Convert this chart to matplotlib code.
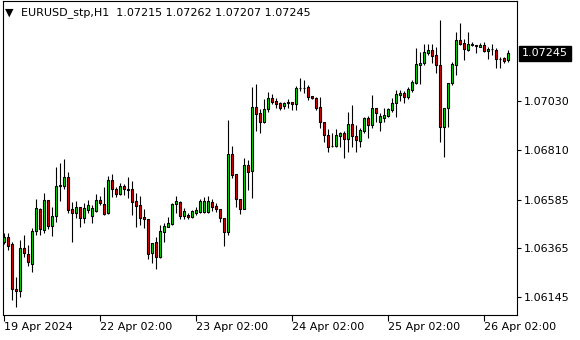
import numpy as np
import pandas as pd
import matplotlib
matplotlib.use("Agg")
import matplotlib.pyplot as plt
from matplotlib.transforms import blended_transform_factory

symbol = "EURUSD_stp,H1"

# hourly bars: Fri 19 Apr 02:00 .. Fri 26 Apr 08:00 (weekend gap)
times = pd.date_range("2024-04-19 02:00", "2024-04-19 23:00", freq="h").append(
    pd.date_range("2024-04-22 00:00", "2024-04-26 08:00", freq="h"))

opens = [
    1.06393, 1.06414, 1.06384, 1.06181, 1.06170, 1.06364, 1.06337, 1.06296, 1.06441, 1.06544,
    1.06447, 1.06581, 1.06465, 1.06512, 1.06644, 1.06647, 1.06685, 1.06540, 1.06526, 1.06550,
    1.06500, 1.06538, 1.06511, 1.06533, 1.06583, 1.06563, 1.06523, 1.06673, 1.06633, 1.06609,
    1.06646, 1.06633, 1.06633, 1.06578, 1.06560, 1.06505, 1.06497, 1.06342, 1.06392, 1.06324,
    1.06440, 1.06462, 1.06475, 1.06563, 1.06575, 1.06512, 1.06515, 1.06505, 1.06526, 1.06530,
    1.06530, 1.06530, 1.06572, 1.06556, 1.06541, 1.06500, 1.06440, 1.06789, 1.06699, 1.06586,
    1.06541, 1.06740, 1.06714, 1.07004, 1.06977, 1.06936, 1.06992, 1.07042, 1.07030, 1.07019,
    1.07009, 1.07022, 1.07024, 1.07015, 1.07087, 1.07090, 1.07092, 1.07052, 1.07042, 1.07001,
    1.06934, 1.06876, 1.06825, 1.06827, 1.06873, 1.06884, 1.06858, 1.06925, 1.06872, 1.06851,
    1.06896, 1.06952, 1.06921, 1.06997, 1.06936, 1.06954, 1.06962, 1.06989, 1.07022, 1.07058,
    1.07065, 1.07049, 1.07079, 1.07112, 1.07194, 1.07200, 1.07248, 1.07260, 1.07236, 1.07192,
    1.06911, 1.06997, 1.07110, 1.07192, 1.07305, 1.07290, 1.07260, 1.07285, 1.07283, 1.07275,
    1.07283, 1.07257, 1.07266, 1.07260, 1.07221, 1.07223, 1.07215]

highs = [
    1.06433, 1.06434, 1.06391, 1.06235, 1.06400, 1.06425, 1.06380, 1.06456, 1.06587, 1.06547,
    1.06614, 1.06583, 1.06551, 1.06733, 1.06751, 1.06767, 1.06709, 1.06576, 1.06580, 1.06551,
    1.06568, 1.06583, 1.06560, 1.06610, 1.06601, 1.06640, 1.06691, 1.06700, 1.06643, 1.06658,
    1.06654, 1.06688, 1.06670, 1.06616, 1.06601, 1.06541, 1.06497, 1.06389, 1.06417, 1.06470,
    1.06480, 1.06505, 1.06568, 1.06601, 1.06580, 1.06545, 1.06526, 1.06538, 1.06553, 1.06586,
    1.06598, 1.06601, 1.06586, 1.06571, 1.06542, 1.06502, 1.06944, 1.06827, 1.06700, 1.06587,
    1.06771, 1.06763, 1.07094, 1.07107, 1.06992, 1.07037, 1.07069, 1.07060, 1.07042, 1.07024,
    1.07024, 1.07039, 1.07027, 1.07099, 1.07132, 1.07125, 1.07102, 1.07052, 1.07046, 1.07046,
    1.06934, 1.06902, 1.06884, 1.06903, 1.06891, 1.06896, 1.06980, 1.07012, 1.06921, 1.06907,
    1.06959, 1.06962, 1.07057, 1.06997, 1.06974, 1.06997, 1.06997, 1.07042, 1.07079, 1.07079,
    1.07075, 1.07092, 1.07125, 1.07268, 1.07252, 1.07287, 1.07287, 1.07287, 1.07275, 1.07395,
    1.07000, 1.07111, 1.07207, 1.07343, 1.07380, 1.07308, 1.07341, 1.07297, 1.07284, 1.07290,
    1.07295, 1.07275, 1.07287, 1.07268, 1.07230, 1.07227, 1.07262]

lows = [
    1.06384, 1.06357, 1.06131, 1.06100, 1.06143, 1.06326, 1.06283, 1.06260, 1.06425, 1.06423,
    1.06434, 1.06452, 1.06420, 1.06485, 1.06578, 1.06633, 1.06523, 1.06395, 1.06500, 1.06459,
    1.06479, 1.06524, 1.06479, 1.06530, 1.06560, 1.06515, 1.06520, 1.06598, 1.06595, 1.06605,
    1.06605, 1.06591, 1.06515, 1.06462, 1.06470, 1.06455, 1.06315, 1.06300, 1.06270, 1.06320,
    1.06395, 1.06460, 1.06470, 1.06526, 1.06496, 1.06496, 1.06496, 1.06503, 1.06514, 1.06526,
    1.06526, 1.06526, 1.06535, 1.06530, 1.06482, 1.06377, 1.06426, 1.06681, 1.06553, 1.06520,
    1.06540, 1.06628, 1.06591, 1.06896, 1.06887, 1.06932, 1.06981, 1.07015, 1.06999, 1.06989,
    1.06992, 1.06999, 1.06989, 1.06989, 1.07075, 1.07065, 1.07034, 1.07037, 1.06989, 1.06909,
    1.06843, 1.06798, 1.06823, 1.06823, 1.06823, 1.06771, 1.06798, 1.06822, 1.06801, 1.06823,
    1.06887, 1.06861, 1.06907, 1.06936, 1.06896, 1.06936, 1.06959, 1.06981, 1.06959, 1.07031,
    1.07022, 1.07037, 1.07072, 1.07107, 1.07107, 1.07192, 1.07237, 1.07200, 1.07157, 1.06846,
    1.06776, 1.06914, 1.07102, 1.07147, 1.07283, 1.07215, 1.07257, 1.07278, 1.07248, 1.07272,
    1.07252, 1.07218, 1.07237, 1.07177, 1.07177, 1.07200, 1.07207]

closes = [
    1.06415, 1.06377, 1.06181, 1.06174, 1.06366, 1.06344, 1.06301, 1.06441, 1.06545, 1.06452,
    1.06581, 1.06465, 1.06509, 1.06645, 1.06651, 1.06685, 1.06538, 1.06526, 1.06550, 1.06500,
    1.06545, 1.06560, 1.06545, 1.06583, 1.06568, 1.06520, 1.06673, 1.06631, 1.06609, 1.06646,
    1.06631, 1.06629, 1.06575, 1.06557, 1.06503, 1.06496, 1.06339, 1.06387, 1.06324, 1.06443,
    1.06465, 1.06479, 1.06563, 1.06578, 1.06511, 1.06533, 1.06505, 1.06533, 1.06538, 1.06578,
    1.06578, 1.06578, 1.06553, 1.06541, 1.06500, 1.06440, 1.06789, 1.06696, 1.06586, 1.06541,
    1.06740, 1.06711, 1.07001, 1.06971, 1.06936, 1.06992, 1.07042, 1.07027, 1.07016, 1.06999,
    1.07019, 1.07023, 1.07015, 1.07087, 1.07090, 1.07088, 1.07049, 1.07042, 1.06999, 1.06934,
    1.06876, 1.06823, 1.06828, 1.06876, 1.06887, 1.06858, 1.06925, 1.06872, 1.06854, 1.06899,
    1.06952, 1.06921, 1.06997, 1.06977, 1.06962, 1.06967, 1.06994, 1.07022, 1.07060, 1.07067,
    1.07049, 1.07083, 1.07117, 1.07197, 1.07203, 1.07250, 1.07260, 1.07234, 1.07191, 1.06911,
    1.06997, 1.07110, 1.07197, 1.07305, 1.07287, 1.07263, 1.07287, 1.07283, 1.07280, 1.07284,
    1.07257, 1.07266, 1.07263, 1.07218, 1.07219, 1.07212, 1.07245]

price_ticks = [1.06145, 1.06365, 1.06585, 1.06810, 1.07030]

o = np.array(opens)
h = np.array(highs)
l = np.array(lows)
c = np.array(closes)
x = np.arange(len(o))

fig = plt.figure(figsize=(5.8, 3.4), dpi=100, facecolor="white")
ax = fig.add_axes([2.5 / 580, 25 / 340, 514.2 / 580, 314 / 340])
ax.set_xlim(-0.3, 128.25)
ax.set_ylim(1.060637, 1.074811)

up = c >= o
colors = np.where(up, "#00E000", "#E00000")

ax.vlines(x, l, h, color="black", linewidth=0.8, zorder=2)
ax.bar(x, np.abs(c - o), width=0.55, bottom=np.minimum(o, c),
       color=colors, edgecolor="black", linewidth=0.8, zorder=3)

for s in ax.spines.values():
    s.set_linewidth(0.8)
    s.set_color("black")

# price axis on the right
ax.yaxis.tick_right()
ax.set_yticks(price_ticks)
ax.set_yticklabels([f"{v:.5f}" for v in price_ticks])
ax.tick_params(axis="y", direction="out", length=3, width=0.8, pad=2,
               labelsize=8, colors="black")

# time axis, label every 24 bars
step = 24
tick_idx = list(range(0, len(times), step))
tick_lab = [times[0].strftime("%d %b %Y")] + \
    [times[i].strftime("%d %b %H:%M") for i in tick_idx[1:]]
ax.set_xticks(tick_idx)
ax.set_xticklabels(tick_lab)
ax.tick_params(axis="x", direction="out", length=4, width=0.8, pad=1,
               labelsize=8, colors="black")
for lab in ax.get_xticklabels():
    lab.set_horizontalalignment("left")

# last price marker
trans = blended_transform_factory(ax.transAxes, ax.transData)
ax.annotate(f"{closes[-1]:.5f}", xy=(1, closes[-1]), xycoords=trans,
            xytext=(4, 0), textcoords="offset points", va="center", ha="left",
            fontsize=8, color="white", annotation_clip=False,
            bbox=dict(boxstyle="square,pad=0.25", facecolor="black", edgecolor="black"))

# header
fig.text(5 / 580, 1 - 13 / 340, "\u25bc", fontsize=8, va="center", ha="left", color="black")
fig.text(21 / 580, 1 - 13 / 340,
         f"{symbol}  {opens[-1]:.5f} {highs[-1]:.5f} {lows[-1]:.5f} {closes[-1]:.5f}",
         fontsize=8, va="center", ha="left", color="black")

fig.savefig("out.png", dpi=100, facecolor="white")
plt.close(fig)
